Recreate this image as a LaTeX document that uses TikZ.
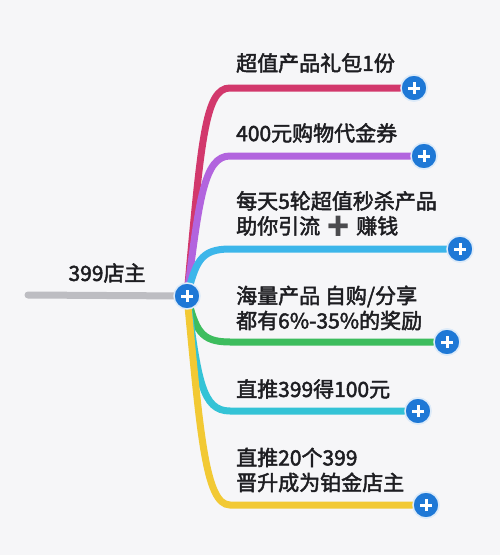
\documentclass[tikz,border=0pt]{standalone}
\usepackage{fontspec}
\newfontfamily\cjk{Noto Sans CJK SC}[FakeBold=2.2]
\newfontfamily\emo{Noto Emoji}
\usepackage{tikz}
\usetikzlibrary{calc}
\definecolor{bg}{HTML}{F6F6F8}
\definecolor{ink}{HTML}{1E1E22}
\definecolor{stemgray}{HTML}{BDBDC2}
\definecolor{plusblue}{HTML}{1E78D6}
\definecolor{bred}{HTML}{D2386C}
\definecolor{bpurple}{HTML}{B264DE}
\definecolor{bblue}{HTML}{3CB6EA}
\definecolor{bgreen}{HTML}{3DBD5E}
\definecolor{bcyan}{HTML}{34C3D6}
\definecolor{byellow}{HTML}{F2C934}
\tikzstyle{every node}=[font=\cjk\fontsize{21}{25}\selectfont,text=ink,inner sep=0pt]
\tikzstyle{branch}=[line width=7pt,line cap=round]
\tikzstyle{label}=[anchor=west,align=left]
\tikzstyle{plus}=[circle,fill=plusblue,draw=white!85!plusblue,line width=1.5pt,minimum size=26pt,
  path picture={\draw[white,line width=3pt]
    ($(path picture bounding box.center)+(-6pt,0)$) -- ++(12pt,0)
    ($(path picture bounding box.center)+(0,-6pt)$) -- ++(0,12pt);}]

\begin{document}
\begin{tikzpicture}[x=1pt,y=-1pt]
\fill[bg] (0,0) rectangle (500,555);
\useasboundingbox (0,0) rectangle (500,555);

\coordinate (hub) at (187,296);
\coordinate (stemend) at (28,295);
\draw[branch,stemgray] (stemend) -- (hub);
\node (title) at (107,273) {399店主};

\foreach \n/\col/\y/\xe/\ax/\ay/\bx in {
  1/bred/88/414/201/140/205,
  2/bpurple/156/424/199/200/204,
  3/bblue/249/460/196/262/200,
  4/bgreen/342/447/196/330/200,
  5/bcyan/411/418/198/380/202,
  6/byellow/505/426/200/430/205}
{\coordinate (bend\n) at (230,\y);
\node[plus] (tip\n) at (\xe,\y) {};
\draw[branch,\col] (hub) .. controls (\ax,\ay) and (\bx,\y) .. (bend\n) -- (tip\n.west);
\node[plus] at (tip\n) {};
}

\node[plus] (root) at (hub) {};

\node[label] (text1) at (236,63) {超值产品礼包1份};
\node[label] (text2) at (236,133) {400元购物代金券};
\node[label] (text3) at (236,214) {每天5轮超值秒杀产品\\助你引流 {\emo\color{ink!80}➕} 赚钱};
\node[label] (text4) at (236,308) {海量产品 自购/分享\\都有6\%-35\%的奖励};
\node[label] (text5) at (236,389) {直推399得100元};
\node[label] (text6) at (236,470) {直推20个399\\晋升成为铂金店主};
\end{tikzpicture}
\end{document}
